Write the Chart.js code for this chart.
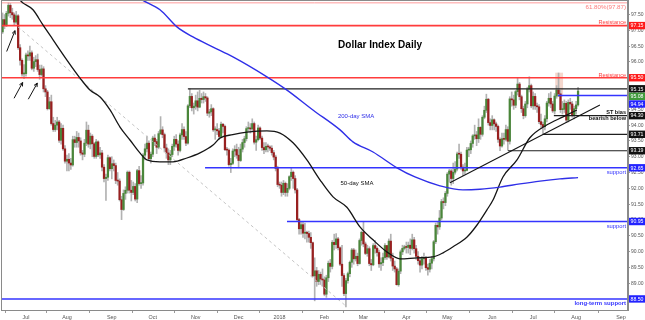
<!DOCTYPE html>
<html><head><meta charset="utf-8">
<script src="https://cdn.jsdelivr.net/npm/chart.js@4.4.1/dist/chart.umd.min.js"></script>
<style>html,body{margin:0;padding:0;background:#fff;overflow:hidden}#wrap{width:645px;height:320px}</style>
</head><body><div id="wrap"><canvas id="c" width="645" height="320"></canvas></div>
<script>
// ---------- DATA (daily candles, trading-day index 0 = 15 Jun 2017) ----------
const openP = [
96.95,97.34,97.15,97.54,97.79,97.56,97.49,97.26,97.46,96.45,
96.05,95.62,95.63,96.22,96.19,96.29,95.80,96.01,96.07,95.76,
95.60,95.78,95.15,95.05,94.52,94.74,94.05,93.86,94.00,94.10,
93.52,93.90,93.25,92.86,92.92,92.80,92.74,93.54,93.45,93.61,
93.50,93.12,93.08,93.43,93.84,93.40,93.65,93.41,93.01,93.47,
93.06,93.12,92.67,92.31,92.35,92.97,92.62,92.78,92.72,92.25,
92.23,91.64,91.33,91.84,91.94,92.51,91.94,91.87,92.06,91.66,
92.56,92.15,92.17,93.05,93.25,93.43,92.94,93.08,93.59,93.48,
93.30,93.73,93.85,93.70,93.28,93.12,92.90,93.07,93.33,93.55,
93.40,93.20,93.69,93.86,93.64,93.43,94.61,94.91,94.55,94.60,
94.77,94.57,94.85,94.81,94.90,94.86,94.38,94.42,94.52,93.85,
93.86,93.82,93.64,94.03,93.96,93.22,93.21,92.75,92.79,93.18,
93.23,93.05,92.88,93.24,93.45,93.57,93.89,93.90,93.88,94.05,
93.46,93.54,93.91,93.59,93.29,93.22,93.33,93.31,93.27,93.13,
92.99,92.63,92.12,92.10,91.87,92.16,91.87,92.00,92.37,92.51,
92.31,91.95,91.01,90.72,90.85,90.58,90.61,90.57,90.45,90.28,
89.23,89.39,89.05,89.28,89.13,89.10,88.65,89.17,89.63,89.53,
90.29,90.22,90.40,90.12,89.60,89.24,88.67,89.08,89.30,89.66,
90.05,89.77,89.85,89.62,90.35,90.61,90.24,89.94,90.09,89.62,
89.58,90.19,90.10,89.97,89.61,89.65,89.81,90.19,89.83,90.33,
89.79,89.54,89.45,88.95,89.38,89.99,90.10,90.15,90.13,90.20,
90.10,90.37,90.09,89.85,89.71,89.57,89.77,89.79,89.49,89.44,
89.63,89.77,90.31,90.83,90.78,91.06,91.58,91.55,91.84,92.45,
92.55,92.31,92.51,92.61,93.09,93.08,92.67,92.55,92.57,93.21,
93.22,93.42,93.66,93.69,93.57,93.93,93.71,94.25,94.47,94.82,
94.08,93.99,94.17,94.04,93.96,93.55,93.34,93.57,93.55,93.86,
93.49,94.83,94.80,94.63,95.06,95.30,94.90,94.52,94.30,94.67,
95.14,95.25,94.61,94.91,94.61,94.58,94.11,94.02,93.95,94.20,
94.70,94.85,94.67,94.45,94.92,95.11,94.99,94.49,94.50,94.69,
94.16,94.72,94.67,94.32,94.52,94.64];
const highP = [
97.55,97.50,97.60,97.87,97.85,97.70,97.55,97.60,97.50,96.55,
96.10,95.92,96.28,96.35,96.50,96.35,96.15,96.20,96.25,95.90,
95.90,95.85,95.25,95.10,94.88,94.95,94.25,94.15,94.25,94.15,
94.05,94.00,93.35,93.05,93.10,92.95,93.65,93.65,93.80,93.75,
93.60,93.20,93.55,94.10,94.00,93.75,93.70,93.45,93.55,93.50,
93.30,93.20,92.75,92.45,93.05,93.00,93.00,92.90,92.80,92.50,
92.30,91.75,91.95,92.05,92.55,92.55,92.25,92.20,92.15,92.60,
92.70,92.40,93.10,93.40,93.65,93.50,93.15,93.65,93.70,93.55,
93.80,94.27,93.95,93.75,93.40,93.25,93.20,93.40,93.65,93.70,
93.50,93.75,94.05,93.95,93.80,94.65,95.15,95.00,94.70,94.95,
95.05,95.10,95.00,95.05,95.00,94.90,94.50,94.65,94.55,93.95,
94.05,93.90,94.10,94.05,94.00,93.30,93.25,92.95,93.25,93.35,
93.40,93.30,93.40,93.55,93.65,93.95,94.10,94.05,94.20,94.10,
93.65,94.00,93.95,93.65,93.45,93.45,93.40,93.35,93.35,93.20,
93.05,92.70,92.20,92.20,92.25,92.20,92.15,92.40,92.65,92.55,
92.40,92.00,91.05,90.95,90.95,90.90,90.65,90.65,90.60,90.30,
89.80,89.50,89.40,89.35,89.45,89.20,89.25,89.70,89.75,90.35,
90.55,90.57,90.45,90.15,90.20,89.30,89.15,89.35,89.70,90.10,
90.10,90.05,89.95,90.40,90.65,90.93,90.30,90.20,90.15,89.75,
90.25,90.35,90.15,90.05,89.80,89.95,90.25,90.20,90.40,90.55,
89.95,89.70,89.50,89.45,90.05,90.20,90.20,90.30,90.30,90.40,
90.55,90.45,90.20,90.00,89.80,89.85,89.95,89.85,89.60,89.75,
89.85,90.35,90.90,90.95,91.30,91.65,91.70,91.90,92.50,92.60,
92.60,92.80,92.85,93.15,93.40,93.15,92.75,92.80,93.30,93.30,
93.50,93.70,94.00,93.80,94.20,93.95,94.30,94.60,94.98,94.85,
94.20,94.30,94.20,94.10,94.00,93.60,93.75,93.75,94.00,93.95,
94.90,95.05,94.95,95.10,95.50,95.35,94.95,94.60,94.75,95.20,
95.53,95.30,95.05,95.00,94.70,94.65,94.35,94.10,94.30,94.75,
95.00,95.05,94.75,95.00,95.25,95.65,95.10,94.75,94.80,94.75,
94.80,94.85,94.75,94.60,94.75,95.20];
const lowP = [
96.90,97.05,97.12,97.45,97.40,97.35,97.15,97.20,96.40,95.90,
95.55,95.47,95.55,96.05,96.05,95.75,95.70,95.85,95.70,95.45,
95.55,95.05,94.90,94.48,94.50,94.00,93.80,93.80,93.85,93.45,
93.40,93.20,92.80,92.55,92.55,92.60,92.70,93.30,93.30,93.30,
93.05,92.90,93.00,93.35,93.30,93.25,93.00,92.95,92.95,93.00,
92.95,92.55,92.20,91.62,92.25,92.55,92.30,92.55,92.15,92.10,
91.60,91.01,91.30,91.65,91.85,91.85,91.60,91.80,91.60,91.55,
92.10,92.00,92.10,92.90,93.15,92.90,92.80,93.00,93.35,93.10,
93.25,93.70,93.60,93.15,92.95,92.75,92.75,93.00,93.20,93.30,
93.05,93.15,93.55,93.55,93.35,93.40,94.55,94.45,94.35,94.50,
94.45,94.55,94.70,94.70,94.75,94.30,94.25,94.30,93.80,93.55,
93.70,93.55,93.60,93.75,93.20,93.05,92.70,92.50,92.75,93.00,
92.95,92.65,92.85,93.15,93.30,93.50,93.80,93.75,93.80,93.40,
93.20,93.50,93.55,93.20,93.10,93.15,93.15,93.20,93.05,92.90,
92.55,92.05,92.00,91.75,91.80,91.75,91.75,91.95,92.25,92.00,
91.85,90.95,90.55,90.55,90.45,90.40,90.30,90.30,90.10,89.20,
88.44,88.90,88.95,88.95,88.90,88.60,88.55,89.05,89.35,89.45,
90.05,90.10,90.05,89.55,88.90,88.60,88.25,89.00,89.20,89.50,
89.60,89.70,89.55,89.60,90.20,90.15,89.90,89.85,89.55,89.40,
89.55,89.95,89.85,89.50,89.40,89.55,89.75,89.75,89.80,89.70,
89.40,89.35,88.94,88.90,89.30,89.90,90.05,89.95,89.95,89.90,
90.05,89.95,89.75,89.60,89.35,89.45,89.60,89.40,89.25,89.35,
89.45,89.70,90.25,90.55,90.70,91.00,91.35,91.45,91.75,92.20,
92.10,92.15,92.45,92.55,92.95,92.60,92.40,92.45,92.55,93.00,
93.10,93.30,93.55,93.35,93.45,93.55,93.65,94.20,94.40,94.00,
93.85,93.85,93.85,93.80,93.45,93.19,93.30,93.40,93.50,93.20,
93.40,94.60,94.50,94.55,94.95,94.80,94.40,94.20,94.25,94.55,
95.05,94.55,94.50,94.50,94.40,94.05,93.90,93.71,93.85,94.10,
94.60,94.55,94.40,94.35,94.85,94.90,94.40,94.35,94.40,94.08,
94.10,94.50,94.25,94.20,94.35,94.60];
const closeP = [
97.34,97.15,97.54,97.79,97.56,97.49,97.26,97.46,96.45,96.05,
95.62,95.63,96.22,96.19,96.29,95.80,96.01,96.07,95.76,95.60,
95.78,95.15,95.05,94.52,94.74,94.05,93.86,94.00,94.10,93.52,
93.90,93.25,92.86,92.92,92.80,92.74,93.54,93.45,93.61,93.50,
93.12,93.08,93.43,93.84,93.40,93.65,93.41,93.01,93.47,93.06,
93.12,92.67,92.31,92.35,92.97,92.62,92.78,92.72,92.25,92.23,
91.64,91.33,91.84,91.94,92.51,91.94,91.87,92.06,91.66,92.56,
92.15,92.17,93.05,93.25,93.43,92.94,93.08,93.59,93.48,93.30,
93.73,93.85,93.70,93.28,93.12,92.90,93.07,93.33,93.55,93.40,
93.20,93.69,93.86,93.64,93.43,94.61,94.91,94.55,94.60,94.77,
94.57,94.85,94.81,94.90,94.86,94.38,94.42,94.52,93.85,93.86,
93.82,93.64,94.03,93.96,93.22,93.21,92.75,92.79,93.18,93.23,
93.05,92.88,93.24,93.45,93.57,93.89,93.90,93.88,94.05,93.46,
93.54,93.91,93.59,93.29,93.22,93.33,93.31,93.27,93.13,92.99,
92.63,92.12,92.10,91.87,92.16,91.87,92.00,92.37,92.51,92.31,
91.95,91.01,90.72,90.85,90.58,90.61,90.57,90.45,90.28,89.23,
89.39,89.05,89.28,89.13,89.10,88.65,89.17,89.63,89.53,90.29,
90.22,90.40,90.12,89.60,89.24,88.67,89.08,89.30,89.66,90.05,
89.77,89.85,89.62,90.35,90.61,90.24,89.94,90.09,89.62,89.58,
90.19,90.10,89.97,89.61,89.65,89.81,90.19,89.83,90.33,89.79,
89.54,89.45,88.95,89.38,89.99,90.10,90.15,90.13,90.20,90.10,
90.37,90.09,89.85,89.71,89.57,89.77,89.79,89.49,89.44,89.63,
89.77,90.31,90.83,90.78,91.06,91.58,91.55,91.84,92.45,92.55,
92.31,92.51,92.61,93.09,93.08,92.67,92.55,92.57,93.21,93.22,
93.42,93.66,93.69,93.57,93.93,93.71,94.25,94.47,94.82,94.08,
93.99,94.17,94.04,93.96,93.55,93.34,93.57,93.55,93.86,93.49,
94.83,94.80,94.63,95.06,95.30,94.90,94.52,94.30,94.67,95.14,
95.25,94.61,94.91,94.61,94.58,94.11,94.02,93.95,94.20,94.70,
94.85,94.67,94.45,94.92,95.11,94.99,94.49,94.50,94.69,94.16,
94.72,94.67,94.32,94.52,94.64,95.08];

const monthTickIdx    = [12,33,56,77,99,121,142,165,185,207,228,251,272,294,317];
const monthTickLabels = ['Jul','Aug','Sep','Oct','Nov','Dec','2018','Feb','Mar','Apr','May','Jun','Jul','Aug','Sep'];
const yTickValues = [88.5,89,89.5,90,90.5,91,91.5,92,92.5,93,93.5,94,94.5,95,95.5,96,96.5,97,97.5];

const sma50Idx = [6,8.9,15.6,20.7,25.9,33.0,39.7,44.8,50.0,55.1,60.2,65.3,70.4,74.0,80.7,87.4,94.5,101.2,107.9,111.4,118,125.3,135.5,142.2,148.9,156.0,162.7,169.4,176.5,183.2,189.9,197.0,203.7,212.4,220.6,225.8,230.9,238.1,243.2,248.3,251.4,256.5,263.7,270.3,279.1,287.3,294.4];
const sma50Val = [98.30,97.96,97.65,97.17,96.70,96.06,95.49,95.11,94.89,94.48,93.94,93.53,93.12,92.90,92.84,92.84,92.96,93.12,93.37,93.59,93.70,93.78,93.82,93.75,93.44,92.90,92.27,91.73,91.40,90.78,90.37,89.99,89.77,89.80,89.83,89.96,90.15,90.46,90.84,91.32,91.63,92.36,92.90,93.60,94.01,94.26,94.48];
const sma200Idx = [65.3,71.5,80.7,89.4,97.6,107.9,118.1,135.5,145.8,159.1,173.0,179.6,189.9,202.2,211.4,224.2,236.0,244.7,255.0,265.2,275.5,285.7,295.0];
const sma200Val = [98.21,97.96,97.65,97.11,96.79,96.47,96.16,95.53,95.11,94.48,93.85,93.47,93.15,92.65,92.36,92.08,91.95,91.97,92.04,92.14,92.23,92.30,92.34];

const levelValues   = [97.87,97.15,95.50,95.15,94.94,94.30,93.71,93.19,92.65,90.95,88.50];
const levelStartIdx = [-0.8,-0.8,-0.8,95.0,284.7,282.6,277.0,259.1,103.8,145.8,-0.8];

const diagIdx  = [7.9,176.5];   const diagVal  = [97.11,88.25];
const trendIdx = [229.3,306.2]; const trendVal = [92.18,94.64];
const hiliteIdx = [283.3,287.3]; const hiliteVal = [94.90,95.66];

// ---------- STYLES ----------
const X_MIN = -0.8, X_MAX = 320.6;
const FONT = "'Liberation Sans', Arial, sans-serif";
const RED = '#ff3c3c', BLUE = '#3434ff', BLACK = '#1e1e1e', FIB = '#ff9c9c';
const levelStyles = [
  {c:FIB,w:1},{c:RED,w:1.6},{c:RED,w:1.6},{c:BLACK,w:1.2},{c:BLUE,w:1.5},
  {c:BLACK,w:1.2},{c:BLACK,w:1.2},{c:BLACK,w:1.2},{c:BLUE,w:1.6},{c:BLUE,w:1.6},{c:BLUE,w:1.6}];
const boxColors = {97.15:'#ff1a1a',95.5:'#ff1a1a',95.15:'#111',94.94:'#2323ff',94.3:'#111',93.71:'#111',93.19:'#111',92.65:'#2323ff',90.95:'#2323ff',88.5:'#2323ff'};
const GREEN_BODY = 'rgb(74,134,58)', RED_BODY = 'rgb(152,32,32)', WICK = 'rgb(178,178,178)';

// ---------- BUILD ----------
const n = closeP.length;
const wickData = [], bodyData = [], bodyColors = [];
for (let i = 0; i < n; i++) {
  wickData.push({x:i, y:[lowP[i], highP[i]]});
  bodyData.push({x:i, y:[Math.min(openP[i], closeP[i]), Math.max(openP[i], closeP[i])]});
  bodyColors.push(closeP[i] >= openP[i] ? GREEN_BODY : RED_BODY);
}
const datasets = [
  {type:'bar', data:wickData, backgroundColor:WICK, barThickness:1, grouped:false, order:5},
  {type:'bar', data:bodyData, backgroundColor:bodyColors, barThickness:1.6, minBarLength:1, grouped:false, order:4},
  {type:'line', data:diagIdx.map((x,k)=>({x, y:diagVal[k]})), borderColor:'#c4c4c4', borderWidth:1, borderDash:[3,3], pointRadius:0, order:3}
];
levelValues.forEach((v,k)=>{
  datasets.push({type:'line', data:[{x:levelStartIdx[k], y:v},{x:X_MAX, y:v}], borderColor:levelStyles[k].c, borderWidth:levelStyles[k].w, pointRadius:0, order:2});
});
datasets.push({type:'line', data:sma200Idx.map((x,k)=>({x, y:sma200Val[k]})), borderColor:'#2f2fe8', borderWidth:1.4, pointRadius:0, cubicInterpolationMode:'monotone', order:1});
datasets.push({type:'line', data:sma50Idx.map((x,k)=>({x, y:sma50Val[k]})), borderColor:'#151515', borderWidth:1.3, pointRadius:0, cubicInterpolationMode:'monotone', order:1});
datasets.push({type:'line', data:trendIdx.map((x,k)=>({x, y:trendVal[k]})), borderColor:'#151515', borderWidth:1.1, pointRadius:0, order:1});

const texts = [
  {t:'Dollar Index Daily', i:193.5, v:96.54, a:'center', c:'#000', f:'bold 10px '+FONT},
  {t:'61.80%(97.87)', i:319.6, v:97.72, a:'right', c:'#ff7a7a', f:'6.2px '+FONT},
  {t:'Resistance', i:319.6, v:97.24, a:'right', c:'#ff4040', f:'5.6px '+FONT},
  {t:'Resistance', i:319.6, v:95.58, a:'right', c:'#ff4040', f:'5.6px '+FONT},
  {t:'200-day SMA', i:181.2, v:94.29, a:'center', c:'#2f2fe8', f:'6px '+FONT},
  {t:'50-day SMA', i:181.7, v:92.17, a:'center', c:'#111', f:'6px '+FONT},
  {t:'ST bias', i:319.6, v:94.40, a:'right', c:'#111', f:'bold 5.6px '+FONT},
  {t:'bearish below', i:319.6, v:94.20, a:'right', c:'#111', f:'bold 5.6px '+FONT},
  {t:'support', i:319.6, v:92.50, a:'right', c:'#3434ff', f:'5.8px '+FONT},
  {t:'support', i:319.6, v:90.81, a:'right', c:'#3434ff', f:'5.8px '+FONT},
  {t:'long-term support', i:319.6, v:88.36, a:'right', c:'#3434ff', f:'bold 6px '+FONT}
];
const arrows = [
  {ti:2.1, tv:96.33, hi:6.4, hv:96.99},
  {ti:5.9, tv:94.85, hi:10.3, hv:95.35},
  {ti:13.2, tv:94.82, hi:17.8, hv:95.33}
];

const decor = {
  id:'decor',
  beforeDatasetsDraw(chart){
    const {ctx, scales:{x, y}} = chart;
    ctx.save();
    ctx.fillStyle = 'rgba(236,176,156,0.5)';
    const x0 = x.getPixelForValue(hiliteIdx[0]), x1 = x.getPixelForValue(hiliteIdx[1]);
    const y0 = y.getPixelForValue(hiliteVal[1]), y1 = y.getPixelForValue(hiliteVal[0]);
    ctx.fillRect(x0, y0, x1-x0, y1-y0);
    ctx.restore();
  },
  afterDatasetsDraw(chart){
    const {ctx, scales:{x, y}} = chart;
    ctx.save();
    ctx.textBaseline = 'middle';
    texts.forEach(o=>{
      ctx.font = o.f; ctx.fillStyle = o.c; ctx.textAlign = o.a;
      ctx.fillText(o.t, x.getPixelForValue(o.i), y.getPixelForValue(o.v));
    });
    ctx.strokeStyle = '#111'; ctx.lineWidth = 1;
    arrows.forEach(a=>{
      const tx = x.getPixelForValue(a.ti), ty = y.getPixelForValue(a.tv);
      const hx = x.getPixelForValue(a.hi), hy = y.getPixelForValue(a.hv);
      const ang = Math.atan2(hy-ty, hx-tx), L = 4;
      ctx.beginPath(); ctx.moveTo(tx,ty); ctx.lineTo(hx,hy);
      ctx.moveTo(hx,hy); ctx.lineTo(hx - L*Math.cos(ang-0.45), hy - L*Math.sin(ang-0.45));
      ctx.moveTo(hx,hy); ctx.lineTo(hx - L*Math.cos(ang+0.45), hy - L*Math.sin(ang+0.45));
      ctx.stroke();
    });
    ctx.restore();
  },
  afterDraw(chart){
    const {ctx, chartArea:ca, scales:{y}} = chart;
    ctx.save();
    ctx.strokeStyle = '#8a8a8a'; ctx.lineWidth = 1;
    ctx.strokeRect(ca.left+0.5, ca.top+0.5, ca.right-ca.left-1, ca.bottom-ca.top);
    const items = levelValues.filter(v=>boxColors[v]).map(v=>({v, c:boxColors[v]}));
    items.push({v:closeP[n-1], c:'#3f9a3a'});
    items.sort((a,b)=>b.v-a.v);
    let prev = -100;
    const H = 7.4;
    items.forEach(it=>{
      let cy = Math.max(y.getPixelForValue(it.v), prev + H + 0.2);
      prev = cy;
      ctx.fillStyle = it.c;
      ctx.fillRect(ca.right+1, cy-H/2, 645-ca.right-1, H);
      ctx.fillStyle = '#fff'; ctx.font = '5.2px '+FONT; ctx.textAlign='center'; ctx.textBaseline='middle';
      ctx.fillText(it.v.toFixed(2), (ca.right+1+645)/2, cy+0.3);
    });
    ctx.restore();
  }
};

new Chart(document.getElementById('c'), {
  type:'bar',
  data:{datasets},
  options:{
    responsive:false, animation:false, maintainAspectRatio:false,
    layout:{padding:{left:1, top:0, right:0, bottom:0}},
    plugins:{legend:{display:false}, tooltip:{enabled:false}},
    scales:{
      x:{type:'linear', min:X_MIN, max:X_MAX, offset:false,
         grid:{display:true, drawOnChartArea:false, drawTicks:true, tickLength:3, color:'#9a9a9a'},
         border:{display:true, color:'#8a8a8a'},
         afterBuildTicks:s=>{s.ticks = monthTickIdx.map(v=>({value:v}));},
         ticks:{autoSkip:false, maxRotation:0, font:{size:5.4, family:FONT}, color:'#555', padding:1,
                callback:(v)=>{const k = monthTickIdx.indexOf(v); return k>=0 ? monthTickLabels[k] : '';}},
         afterFit:s=>{s.height = 10; s.paddingLeft = 0; s.paddingRight = 0;}},
      y:{position:'right', min:88.15, max:97.96,
         grid:{display:true, drawOnChartArea:false, drawTicks:true, tickLength:2, color:'#9a9a9a'},
         border:{display:true, color:'#8a8a8a'},
         afterBuildTicks:s=>{s.ticks = yTickValues.map(v=>({value:v}));},
         ticks:{autoSkip:false, font:{size:5, family:FONT}, color:'#555', padding:1, callback:v=>Number(v).toFixed(2)},
         afterFit:s=>{s.width = 17; s.paddingTop = 0; s.paddingBottom = 0;}}
    }
  },
  plugins:[decor]
});
</script>
</body></html>
